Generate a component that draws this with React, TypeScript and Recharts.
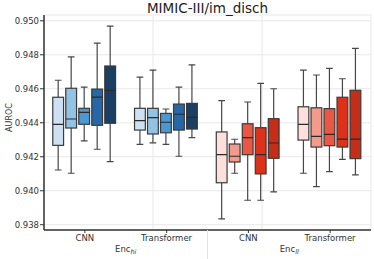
import { BarChart, Bar, XAxis, YAxis, CartesianGrid } from "recharts";

const categories = ["CNN", "Transformer", "CNN", "Transformer"];
const encoders = ["hi", "hi", "ll", "ll"];
const yTicks = [0.938, 0.94, 0.942, 0.944, 0.946, 0.948, 0.95];
// vertical grid lines sit between the categories
const boundaryTicks = [1, 2, 3];

// per category: [whisker low, Q1, median, Q3, whisker high]
const setting1 = [
  [0.94122, 0.94267, 0.94391, 0.9455, 0.9465],
  [0.94273, 0.94357, 0.94412, 0.94485, 0.94669],
  [0.93834, 0.94047, 0.94212, 0.94346, 0.9453],
  [0.94103, 0.94298, 0.94391, 0.94494, 0.9471],
];
const setting2 = [
  [0.94103, 0.94369, 0.94422, 0.94603, 0.94788],
  [0.94282, 0.94334, 0.9443, 0.94485, 0.9471],
  [0.94103, 0.94169, 0.94203, 0.94275, 0.94303],
  [0.94024, 0.94257, 0.9432, 0.94488, 0.94681],
];
const setting3 = [
  [0.94293, 0.94391, 0.94461, 0.94485, 0.9461],
  [0.94273, 0.94341, 0.94403, 0.94455, 0.94481],
  [0.93944, 0.94212, 0.94312, 0.94394, 0.94522],
  [0.94112, 0.94265, 0.94332, 0.94483, 0.9472],
];
const setting4 = [
  [0.94244, 0.94385, 0.94551, 0.94598, 0.94869],
  [0.94203, 0.94357, 0.9445, 0.9451, 0.9461],
  [0.93944, 0.94099, 0.94212, 0.94371, 0.94632],
  [0.94185, 0.94257, 0.94304, 0.9455, 0.94659],
];
const setting5 = [
  [0.94171, 0.94397, 0.94591, 0.94734, 0.94969],
  [0.94312, 0.94363, 0.94432, 0.94514, 0.94741],
  [0.93993, 0.94191, 0.94281, 0.94424, 0.946],
  [0.94093, 0.94189, 0.94304, 0.94591, 0.94838],
];

const settings = [setting1, setting2, setting3, setting4, setting5];

const blues = ["#cee1f2", "#93c3e3", "#4b98d3", "#2767a7", "#1a3f62"];
const reds = ["#fde0dc", "#f49a8b", "#eb5743", "#dd3219", "#c42e19"];

const FONT = "'DejaVu Sans', sans-serif";

const data = categories.map((name, i) => {
  const row: any = { name, enc: encoders[i] };
  settings.forEach((s, k) => {
    row[`s${k}`] = [s[i][0], s[i][4]];
    row[`b${k}`] = s[i];
  });
  return row;
});

const makeBox = (k: number) => (props: any) => {
  const { x, y, width, height, payload } = props;
  const [lo, q1, med, q3, hi] = payload[`b${k}`];
  const top = Math.min(y, y + height);
  const h = Math.abs(height);
  const py = (v: number) => top + ((hi - v) / (hi - lo)) * h;
  const fill = (payload.enc === "hi" ? blues : reds)[k];
  const cx = x + width / 2;
  const cap = width * 0.28;
  const wl = { stroke: "#474747", strokeWidth: 1.2 };
  return (
    <g>
      <line x1={cx} x2={cx} y1={py(hi)} y2={py(q3)} {...wl} />
      <line x1={cx} x2={cx} y1={py(q1)} y2={py(lo)} {...wl} />
      <line x1={cx - cap} x2={cx + cap} y1={py(hi)} y2={py(hi)} {...wl} />
      <line x1={cx - cap} x2={cx + cap} y1={py(lo)} y2={py(lo)} {...wl} />
      <rect
        x={x + 0.6}
        y={py(q3)}
        width={width - 1.2}
        height={py(q1) - py(q3)}
        fill={fill}
        stroke="#3a3a3a"
        strokeWidth={1.2}
      />
      <line x1={x + 0.6} x2={x + width - 0.6} y1={py(med)} y2={py(med)} stroke="#2a2a2a" strokeWidth={1.2} />
    </g>
  );
};

const CategoryTick = (props: any) => {
  const { x, y, payload } = props;
  const index = payload.index ?? props.index;
  const half = payload.offset || 41;
  return (
    <g>
      <text x={x} y={y} dy="0.71em" textAnchor="middle" fontSize={8.5} fill="#333" fontFamily={FONT}>
        {payload.value}
      </text>
      {index % 2 === 0 && (
        <text x={x + half} y={y} dy="1.95em" textAnchor="middle" fontSize={8.5} fill="#333" fontFamily={FONT}>
          Enc
          <tspan fontSize={6.5} fontStyle="italic" dy={2}>
            {encoders[index]}
          </tspan>
        </text>
      )}
      {index === 2 && <line x1={x - half} x2={x - half} y1={y - 5} y2={y + 25} stroke="#e2e2e2" />}
    </g>
  );
};

export default function App() {
  return (
    <div style={{ position: "absolute", left: 0, top: 0, width: 374, height: 259, background: "#fff" }}>
      <BarChart
        width={374}
        height={259}
        data={data}
        margin={{ top: 15, right: 3, bottom: 0, left: 0 }}
        barCategoryGap="10%"
        barGap={1}
      >
        <CartesianGrid stroke="#e8e8e8" xAxisId="g" />
        <XAxis
          dataKey="name"
          height={29}
          tick={<CategoryTick />}
          tickSize={3}
          tickMargin={2}
          tickLine={{ stroke: "#333" }}
          axisLine={{ stroke: "#333", strokeWidth: 1.5 }}
          interval={0}
        />
        <XAxis xAxisId="g" type="number" domain={[0, 4]} ticks={boundaryTicks} allowDataOverflow hide />
        <XAxis xAxisId="t" orientation="top" height={0} tick={false} tickLine={false} axisLine={{ stroke: "#333", strokeWidth: 1.5 }} />
        <YAxis
          width={44}
          domain={[0.93769, 0.95034]}
          allowDataOverflow
          ticks={yTicks}
          tickFormatter={(v: number) => v.toFixed(3)}
          tick={{ fontSize: 8.5, fill: "#333", fontFamily: FONT }}
          tickSize={4}
          tickMargin={1}
          tickLine={{ stroke: "#333" }}
          axisLine={{ stroke: "#333", strokeWidth: 1.5 }}
          label={{
            value: "AUROC",
            angle: -90,
            position: "insideLeft",
            offset: 9,
            dy: -5,
            style: { textAnchor: "middle", fontSize: 8, fill: "#333", fontFamily: FONT },
          }}
        />
        <YAxis yAxisId="r" orientation="right" width={0} tick={false} tickLine={false} axisLine={{ stroke: "#333", strokeWidth: 1.5 }} />
        {settings.map((_, k) => (
          <Bar key={k} dataKey={`s${k}`} shape={makeBox(k)} isAnimationActive={false} />
        ))}
      </BarChart>
      <div
        style={{
          position: "absolute",
          left: 44,
          top: 1,
          width: 327,
          textAlign: "center",
          fontFamily: FONT,
          fontSize: 13.5,
          lineHeight: "14px",
          color: "#222",
        }}
      >
        MIMIC-III/im_disch
      </div>
    </div>
  );
}
